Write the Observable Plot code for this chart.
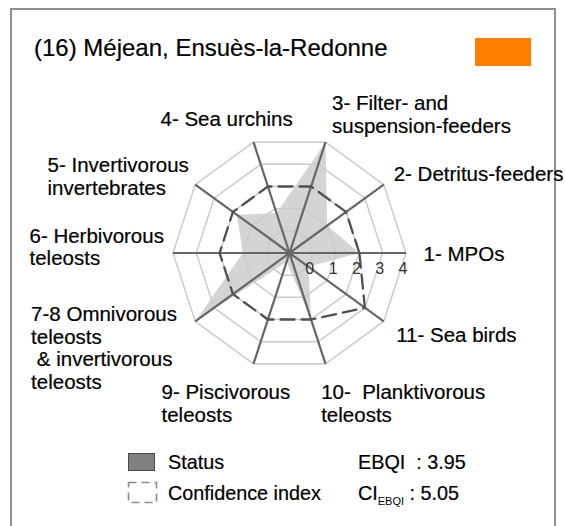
<!DOCTYPE html>
<html><head><meta charset="utf-8">
<script src="https://cdn.jsdelivr.net/npm/d3@7"></script>
<script src="https://cdn.jsdelivr.net/npm/@observablehq/plot@0.6"></script>
<style>
html,body{margin:0;padding:0;background:#fff;}
body{width:565px;height:526px;position:relative;overflow:hidden;font-family:"Liberation Sans",Arial,sans-serif;color:#000;}
#frame{position:absolute;left:10px;top:8px;width:546px;height:540px;border:2px solid #8f8f8f;box-sizing:border-box;}
#title{position:absolute;left:34px;top:36px;font-size:24px;line-height:1;white-space:nowrap;-webkit-text-stroke:0.2px #000;}
#swatch{position:absolute;left:475px;top:38px;width:56px;height:28px;background:#ff8000;}
#chart{position:absolute;left:0;top:0;}
.leg{position:absolute;font-size:19.8px;line-height:1;white-space:nowrap;-webkit-text-stroke:0.2px #000;}
.box{position:absolute;box-sizing:border-box;}
sub{font-size:11px;line-height:1;vertical-align:-5px;-webkit-text-stroke:0;}
</style></head>
<body>
<div id="frame"></div>
<div id="title">(16) Méjean, Ensuès-la-Redonne</div>
<div id="swatch"></div>
<div id="chart"></div>
<div class="box" style="left:128px;top:453px;width:27px;height:18px;background:#808080;border:1.5px solid #4a4a4a;"></div>
<svg class="box" style="left:127px;top:481px;" width="31" height="23"><rect x="1.5" y="1.5" width="28" height="20" fill="none" stroke="#8a8a8a" stroke-width="1.6" stroke-dasharray="8,5"/></svg>
<div class="leg" style="left:168px;top:452.5px;">Status</div>
<div class="leg" style="left:168px;top:484.2px;">Confidence index</div>
<div class="leg" style="left:358px;top:452.5px;">EBQI&nbsp; : 3.95</div>
<div class="leg" style="left:358px;top:484.2px;">CI<sub>EBQI</sub> : 5.05</div>
<script>
// ---- data ----
const categories = [
  "1- MPOs",
  "2- Detritus-feeders",
  "3- Filter- and\nsuspension-feeders",
  "4- Sea urchins",
  "5- Invertivorous\ninvertebrates",
  "6- Herbivorous\nteleosts",
  "7-8 Omnivorous\nteleosts\n\u00a0& invertivorous\nteleosts",
  "9- Piscivorous\nteleosts",
  "10-\u00a0 Planktivorous\nteleosts",
  "11- Sea birds"
];
const statusValues = [2, 1, 4, 0.8, 1.8, 1, 4, -0.6, 2, 0];
const confidenceValues = [2, 2, 2, 2, 2, 2, 2, 2, 2, 3];
const tickValues = [0, 1, 2, 3, 4];
const scaleMin = -1;

// ---- layout (styling) ----
const labelLayout = [
  {dx: 4, dy: 1}, {dx: -1, dy: -2.5}, {dx: 2.3, dy: -14.8}, {dx: -88.8, dy: -10.3},
  {dx: -136.8, dy: -0.3}, {dx: -130, dy: -6.4}, {dx: -153.2, dy: 18.2},
  {dx: -87.8, dy: 26.2}, {dx: -8.5, dy: 26.2}, {dx: 1.5, dy: 5.4}
];
const labelRadius = 5.58;

const n = categories.length;
const ang = i => i * 2 * Math.PI / n;
const rad = v => v - scaleMin;
const polar = (u, i) => ({x: u * Math.cos(ang(i)), y: u * Math.sin(ang(i))});

const outer = rad(tickValues[tickValues.length - 1]);
const rings = tickValues.flatMap(t => categories.map((c, i) => ({ring: t, ...polar(rad(t), i)})));
const spokes = categories.map((c, i) => ({x1: 0, y1: 0, x2: polar(outer, i).x, y2: polar(outer, i).y}));
const statusPts = statusValues.map((v, i) => polar(rad(v), i));
const ciPts = confidenceValues.map((v, i) => polar(rad(v), i));
const tickPts = tickValues.map(t => ({label: String(t), x: rad(t), y: 0}));

const marks = [
  Plot.line(statusPts, {x: "x", y: "y", curve: "linear-closed", fill: "#d4d4d4", stroke: "none"}),
  Plot.line(rings, {x: "x", y: "y", z: "ring", curve: "linear-closed", stroke: "#cbcbcb", strokeWidth: 1.5}),
  Plot.link(spokes, {x1: "x1", y1: "y1", x2: "x2", y2: "y2", stroke: "#666", strokeWidth: 2.2}),
  Plot.line(ciPts, {x: "x", y: "y", curve: "linear-closed", stroke: "#505050", strokeWidth: 2.3, strokeDasharray: "14,7"}),
  Plot.text(tickPts, {x: "x", y: "y", text: "label", dx: -3, dy: 16, fontSize: 16, fill: "#333"})
];
categories.forEach((c, i) => {
  const p = polar(labelRadius, i);
  marks.push(Plot.text([{...p, label: c}], {
    x: "x", y: "y", text: "label", textAnchor: "start", lineAnchor: "middle",
    lineHeight: 1.11, fontSize: 20.5, fill: "#000", stroke: "#000", strokeWidth: 0.2,
    dx: labelLayout[i].dx, dy: labelLayout[i].dy
  }));
});

const chart = Plot.plot({
  width: 565, height: 526, margin: 0,
  x: {domain: [0, 5], range: [289, 289 + 116.5], axis: null},
  y: {domain: [0, 5], range: [252.5, 252.5 - 116.5], axis: null},
  style: {fontFamily: "'Liberation Sans', Arial, sans-serif", background: "transparent", overflow: "visible"},
  marks
});
document.getElementById("chart").appendChild(chart);
</script>
</body></html>
